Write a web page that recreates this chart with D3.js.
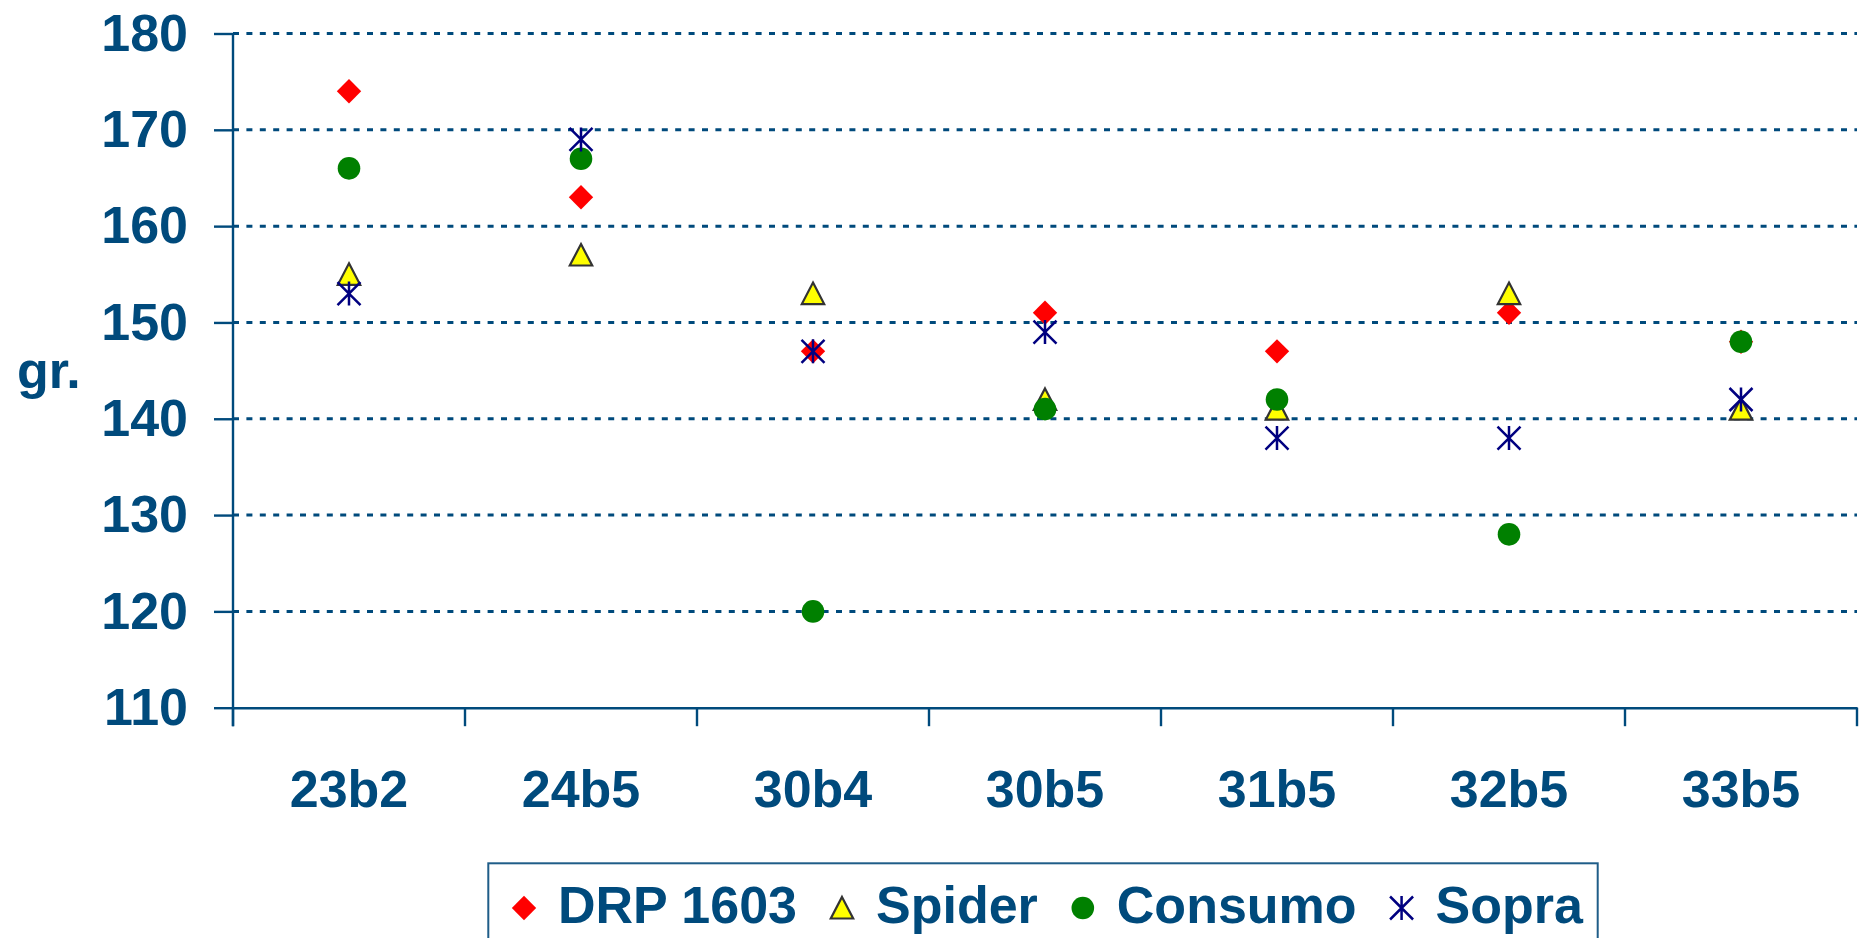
<!DOCTYPE html>
<html>
<head>
<meta charset="utf-8">
<script src="https://cdn.jsdelivr.net/npm/d3@7"></script>
<style>
  html, body { margin: 0; padding: 0; background: #fff; }
  svg { display: block; }
  text { font-family: "Liberation Sans", Arial, sans-serif; font-weight: bold; fill: #004a7c; }
</style>
</head>
<body>
<svg></svg>
<script>
const categories = ["23b2", "24b5", "30b4", "30b5", "31b5", "32b5", "33b5"];
const seriesNames = ["DRP 1603", "Spider", "Consumo", "Sopra"];
const drp     = [174, 163, 147, 151, 147, 151, 148];
const spider  = [155, 157, 153, 142, 141, 153, 141];
const consumo = [166, 167, 120, 141, 142, 128, 148];
const sopra   = [153, 169, 147, 149, 138, 138, 142];
const yTicks = [110, 120, 130, 140, 150, 160, 170, 180];

const W = 1859, H = 938;
const axisColor = "#004a7c";
const fontSize = 52;

const svg = d3.select("svg").attr("width", W).attr("height", H);

const x = d3.scaleBand().domain(categories).range([233, 1857]).padding(0);
const y = d3.scaleLinear().domain([110, 180]).range([707.7, 33.5]);

// gridlines
svg.append("g")
  .selectAll("line")
  .data(yTicks.slice(1))
  .enter()
  .append("line")
  .attr("x1", 233).attr("x2", 1857)
  .attr("y1", d => y(d)).attr("y2", d => y(d))
  .attr("stroke", axisColor)
  .attr("stroke-width", 3)
  .attr("stroke-dasharray", "6,7.4");

// y axis
const yAxis = d3.axisLeft(y).tickValues(yTicks).tickSize(19).tickPadding(26).tickFormat(d3.format("d"));
const gy = svg.append("g").attr("transform", "translate(233,0)").call(yAxis);
gy.select(".domain").remove();
gy.selectAll("line").attr("stroke", axisColor).attr("stroke-width", 2.4);
gy.selectAll("text").attr("font-size", fontSize).attr("fill", axisColor)
  .style("font-family", "'Liberation Sans', Arial, sans-serif").style("font-weight", "bold");

// x axis
const xAxis = d3.axisBottom(x).tickSize(0).tickPadding(62.4);
const gx = svg.append("g").attr("transform", "translate(0," + y(110) + ")").call(xAxis);
gx.select(".domain").attr("stroke", axisColor).attr("stroke-width", 2.4);
gx.selectAll("text").attr("font-size", fontSize).attr("fill", axisColor)
  .style("font-family", "'Liberation Sans', Arial, sans-serif").style("font-weight", "bold");

// category boundary ticks
const bounds = categories.map(c => x(c)).concat([x.range()[1]]);
svg.append("g")
  .selectAll("line")
  .data(bounds)
  .enter()
  .append("line")
  .attr("x1", d => d).attr("x2", d => d)
  .attr("y1", y(110)).attr("y2", y(110) + 18.5)
  .attr("stroke", axisColor).attr("stroke-width", 2.4);

// y axis line (from top to below axis)
svg.append("line")
  .attr("x1", 233).attr("x2", 233)
  .attr("y1", y(180)).attr("y2", y(110) + 18.5)
  .attr("stroke", axisColor).attr("stroke-width", 2.4);

// y title
svg.append("text").attr("x", 17).attr("y", 388).attr("font-size", fontSize).text("gr.");

// marker drawers
function drawMarker(g, kind) {
  if (kind === 0) {
    g.append("path").attr("d", "M0,-12.2L12.2,0L0,12.2L-12.2,0Z").attr("fill", "#ff0000");
  } else if (kind === 1) {
    g.append("path").attr("d", "M0,-11L11.2,10.5L-11.2,10.5Z")
      .attr("fill", "#ffff00").attr("stroke", "#333333").attr("stroke-width", 2.2).attr("stroke-linejoin", "miter");
  } else if (kind === 2) {
    g.append("circle").attr("r", 11.3).attr("fill", "#008000");
  } else {
    g.append("path").attr("d", "M-11.5,-11.5L11.5,11.5M-11.5,11.5L11.5,-11.5M0,-12L0,12")
      .attr("stroke", "#000080").attr("stroke-width", 2.5).attr("fill", "none");
  }
}

const allSeries = [drp, spider, consumo, sopra];
allSeries.forEach((vals, si) => {
  const g = svg.append("g");
  g.selectAll("g")
    .data(vals)
    .enter()
    .append("g")
    .attr("transform", (d, i) => "translate(" + (x(categories[i]) + x.bandwidth() / 2) + "," + y(d) + ")")
    .each(function() { drawMarker(d3.select(this), si); });
});

// legend
const legend = svg.append("g");
legend.append("rect")
  .attr("x", 488.3).attr("y", 863.3).attr("width", 1597.7 - 488.3).attr("height", 100)
  .attr("fill", "none").attr("stroke", "#1f5d88").attr("stroke-width", 2);
let lx = 524;
seriesNames.forEach((name, si) => {
  const mg = legend.append("g").attr("transform", "translate(" + lx + ",908)");
  drawMarker(mg, si);
  const t = legend.append("text").attr("x", lx + 34).attr("y", 923.3).attr("font-size", 52).text(name);
  lx = lx + 34 + t.node().getComputedTextLength() + 45;
});
</script>
</body>
</html>
